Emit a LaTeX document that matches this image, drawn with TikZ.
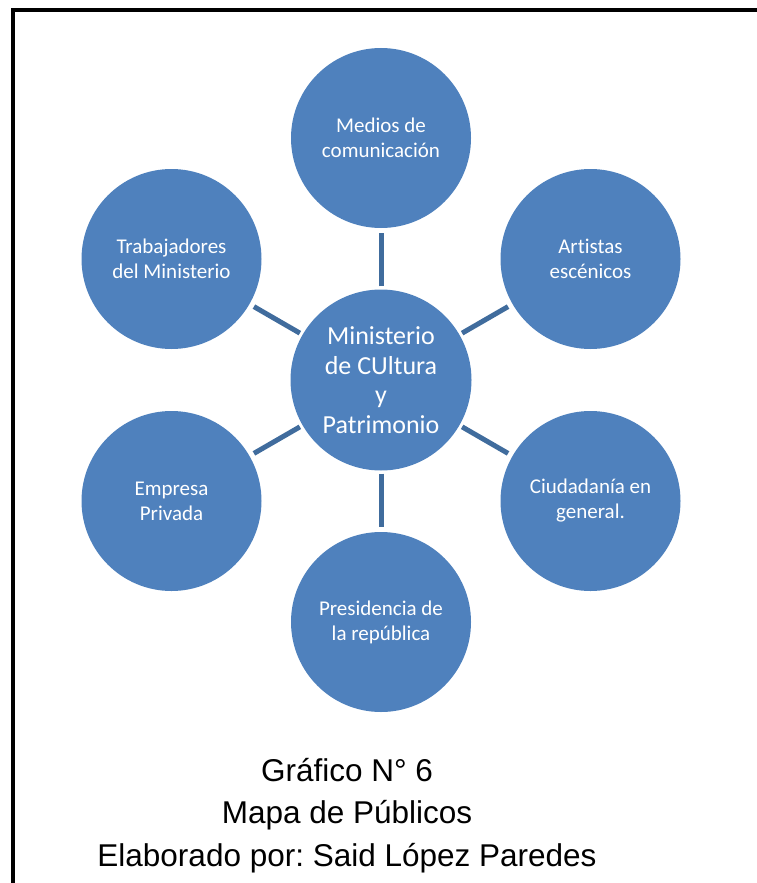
\documentclass[tikz,border=0pt]{standalone}
\usepackage{fontspec}
\setmainfont{Carlito}[Ligatures=NoCommon]
\newfontfamily\capfont{Liberation Sans}
\frenchspacing
\definecolor{cblue}{RGB}{79,129,189}
\definecolor{lblue}{RGB}{64,108,157}
\begin{document}
\begin{tikzpicture}[x=1pt,y=-1pt,
  outer/.style={circle,fill=cblue,draw=none,minimum size=180pt,inner sep=0pt,
    text=white,align=center,font=\fontsize{21}{25}\selectfont},
  hub/.style={circle,fill=cblue,draw=none,minimum size=181pt,inner sep=0pt,
    text=white,align=center,font=\fontsize{26}{29.5}\selectfont},
  conn/.style={draw=lblue,line width=5pt,shorten <=3pt,shorten >=5pt},
  captext/.style={font=\capfont\fontsize{31.5}{42}\selectfont,align=center,inner sep=0pt}]
\useasboundingbox (0,0) rectangle (757,883);
\draw[line width=4pt,line join=miter] (13,883) -- (13,10) -- (757,10);
\node[hub] (c) at (381,380) {Ministerio\\de CUltura\\y\\Patrimonio};
\node[outer] (m) at (381,138) {Medios de\\comunicación};
\node[outer] (a) at (590.5,259) {Artistas\\escénicos};
\node[outer] (g) at (590.5,501) {Ciudadanía en\\general.};
\node[outer] (p) at (381,622) {Presidencia de\\la república};
\node[outer] (e) at (171.5,501) {Empresa\\Privada};
\node[outer] (t) at (171.5,259) {Trabajadores\\del Ministerio};
\foreach \n in {m,a,g,p,e,t} \draw[conn] (c) -- (\n);
\node[captext,anchor=base] (cap1) at (347,781.5) {Gráfico N° 6};
\node[captext,anchor=base] (cap2) at (347,823.5) {Mapa de Públicos};
\node[captext,anchor=base] (cap3) at (347,866) {Elaborado por: Said López Paredes};
\end{tikzpicture}
\end{document}
